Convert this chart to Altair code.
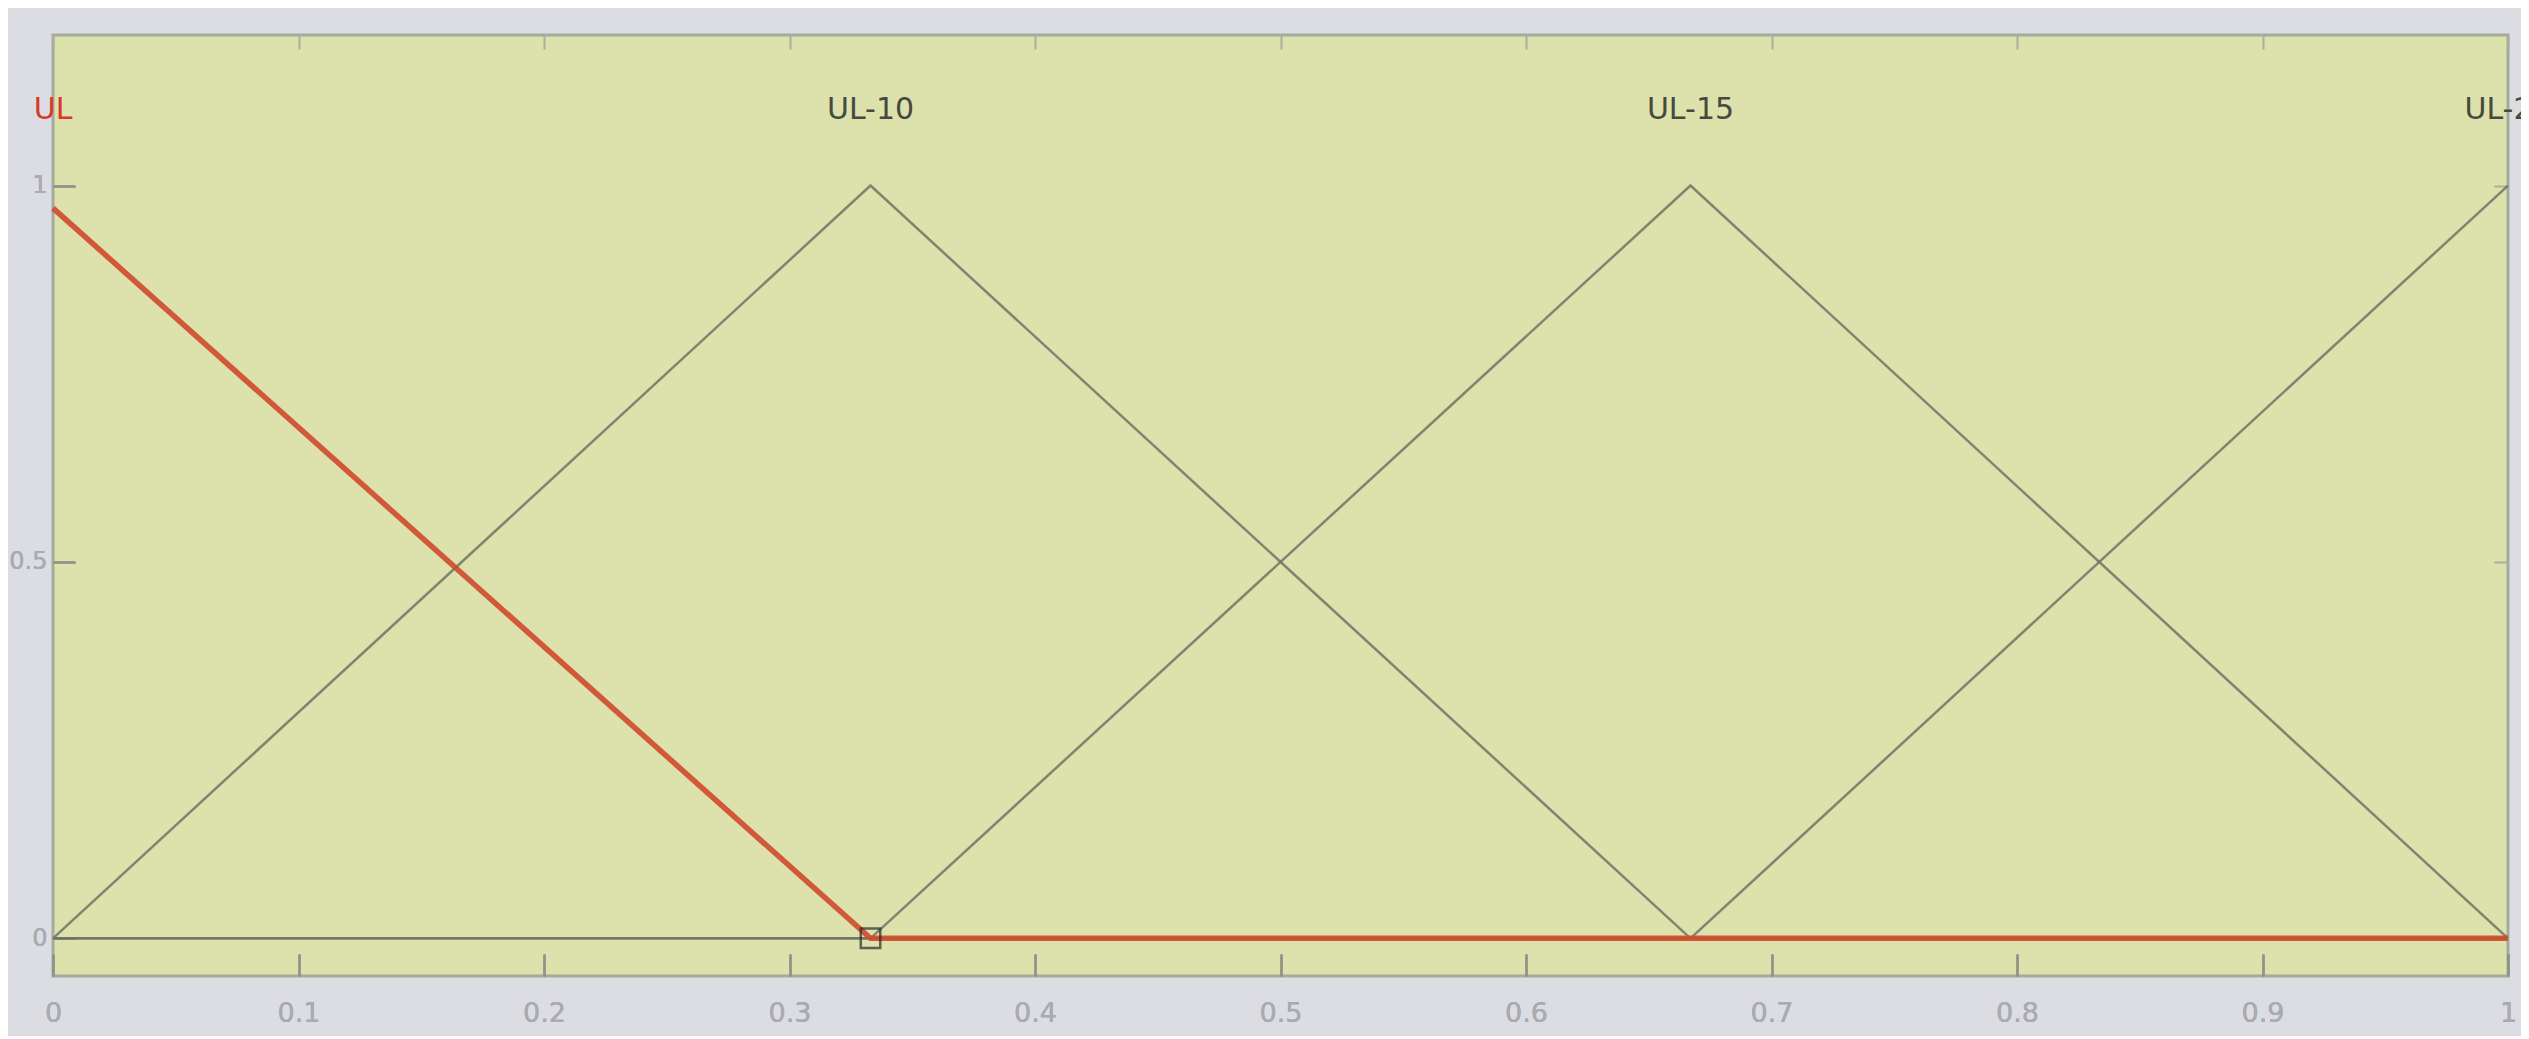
import altair as alt
import pandas as pd

# ---- data ----
x_ticks = [0, 0.1, 0.2, 0.3, 0.4, 0.5, 0.6, 0.7, 0.8, 0.9, 1]
y_ticks = [0, 0.5, 1]

mf_names = ["UL", "UL-10", "UL-15", "UL-20"]
mf_peaks = [0, 0.333, 0.667, 1]
label_level = [1.1, 1.1, 1.1, 1.1]
label_colors = ["#d8382c", "#454a40", "#454a40", "#454a40"]

ul_x = [0, 0.333, 1]
ul_y = [0.97, 0, 0]
ul10_x = [0, 0.333, 0.667, 1]
ul10_y = [0, 1, 0, 0]
ul15_x = [0, 0.333, 0.667, 1]
ul15_y = [0, 0, 1, 0]
ul20_x = [0, 0.667, 1]
ul20_y = [0, 0, 1]

marker_x = [0.333]
marker_y = [0]

# ---- tables ----
rows = []
for name, xs, ys in [("UL-10", ul10_x, ul10_y), ("UL-15", ul15_x, ul15_y), ("UL-20", ul20_x, ul20_y)]:
    for i, (a, b) in enumerate(zip(xs, ys)):
        rows.append({"mf": name, "x": a, "y": b, "i": i})
gray_df = pd.DataFrame(rows)
red_df = pd.DataFrame({"mf": "UL", "x": ul_x, "y": ul_y, "i": range(len(ul_x))})
lab_df = pd.DataFrame({"name": mf_names, "x": mf_peaks, "y": label_level, "c": label_colors})
mk_df = pd.DataFrame({"x": marker_x, "y": marker_y})

xs = alt.Scale(domain=[0, 1], nice=False, zero=False)
ys = alt.Scale(domain=[-0.05, 1.2], nice=False, zero=False)

tick_col = "#8d9486"
lab_col = "#a9abb0"

x_bottom = alt.Axis(orient="bottom", values=x_ticks, format=".1~f", domain=False, grid=False,
                    tickSize=22, offset=-22, tickColor=tick_col, tickWidth=2,
                    labelFont="DejaVu Sans", labelFontSize=27, labelColor=lab_col,
                    labelPadding=24, labelFlush=False, labelOverlap=False, labelBound=False, title=None)
y_left = alt.Axis(orient="left", values=y_ticks, format="~g", domain=False, grid=False,
                  tickSize=22, offset=-22, tickColor=tick_col, tickWidth=2,
                  labelFont="DejaVu Sans", labelFontSize=24, labelColor=lab_col,
                  labelPadding=6, labelFlush=False, labelOverlap=False, labelBound=False, title=None)
x_top = alt.Axis(orient="top", values=x_ticks, labels=False, domain=False, grid=False,
                 tickSize=14, offset=-14, tickColor="#aab09f", tickWidth=2, title=None)
y_right = alt.Axis(orient="right", values=y_ticks, labels=False, domain=False, grid=False,
                   tickSize=14, offset=-14, tickColor="#aab09f", tickWidth=2, title=None)

gray = alt.Chart(gray_df).mark_line(color="#6c7664", strokeWidth=2.5, opacity=0.85).encode(
    x=alt.X("x:Q", scale=xs, axis=x_bottom),
    y=alt.Y("y:Q", scale=ys, axis=y_left),
    detail="mf:N",
    order="i:Q",
)

red = alt.Chart(red_df).mark_line(color="#cf4a2c", strokeWidth=5.5, opacity=0.9).encode(
    x=alt.X("x:Q", scale=xs, axis=x_bottom),
    y=alt.Y("y:Q", scale=ys, axis=y_left),
    order="i:Q",
)

marker = alt.Chart(mk_df).mark_square(filled=False, stroke="#2a2a2a", strokeWidth=2.5, size=380).encode(
    x=alt.X("x:Q", scale=xs, axis=x_bottom),
    y=alt.Y("y:Q", scale=ys, axis=y_left),
)

labels = alt.Chart(lab_df).mark_text(font="DejaVu Sans", fontSize=30, align="center",
                                     baseline="middle").encode(
    x=alt.X("x:Q", scale=xs, axis=x_top),
    y=alt.Y("y:Q", scale=ys, axis=y_right),
    text="name:N",
    color=alt.Color("c:N", scale=None),
)

chart = alt.layer(gray, red, marker, labels).resolve_axis(
    x="independent", y="independent"
).properties(
    width=2455,
    height=941,
    autosize="none",
    padding={"left": 45, "top": 27, "right": 13, "bottom": 60},
    background="#dcdde2",
).configure_view(
    fill="#dde1ab", stroke="#a3ab9d", strokeWidth=3
)

chart.save("out.html", embed_options={"renderer": "svg", "actions": False})
